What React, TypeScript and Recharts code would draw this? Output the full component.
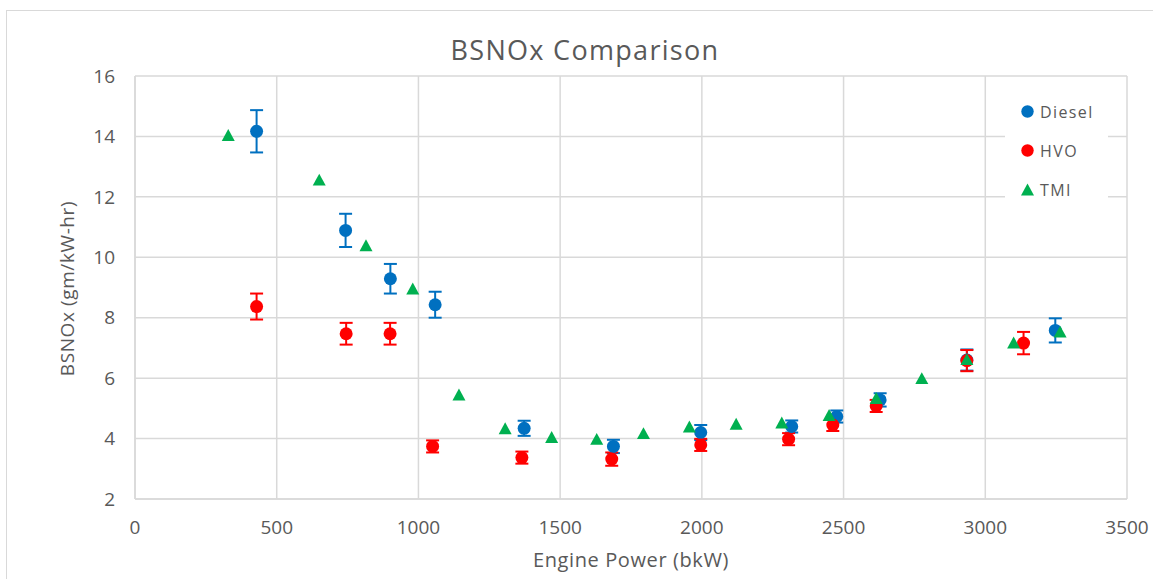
import React from 'react';
import { ScatterChart, Scatter, XAxis, YAxis, CartesianGrid, ErrorBar, Legend, Label } from 'recharts';

// Engine power (bkW), BSNOx (gm/kW-hr) and ± error per fuel
const dieselPower = [429, 743, 901, 1059, 1373, 1688, 1996, 2317, 2476, 2629, 2935, 3247];
const dieselNox = [14.17, 10.89, 9.29, 8.43, 4.34, 3.74, 4.2, 4.4, 4.73, 5.28, 6.6, 7.58];
const dieselErr = [0.7, 0.55, 0.49, 0.43, 0.25, 0.22, 0.25, 0.2, 0.2, 0.22, 0.35, 0.4];

const hvoPower = [429, 745, 900, 1050, 1365, 1682, 1996, 2306, 2462, 2615, 2935, 3135];
const hvoNox = [8.37, 7.47, 7.47, 3.74, 3.37, 3.32, 3.79, 3.98, 4.45, 5.08, 6.58, 7.16];
const hvoErr = [0.43, 0.36, 0.36, 0.2, 0.2, 0.22, 0.2, 0.2, 0.2, 0.2, 0.35, 0.37];

const tmiPower = [329, 650, 815, 980, 1143, 1306, 1470, 1629, 1794, 1956, 2121, 2282, 2449, 2615, 2776, 2935, 3100, 3264];
const tmiNox = [14.05, 12.57, 10.4, 8.97, 5.46, 4.34, 4.05, 3.99, 4.18, 4.4, 4.49, 4.53, 4.78, 5.34, 6.0, 6.63, 7.18, 7.54];

const xTicks = [0, 500, 1000, 1500, 2000, 2500, 3000, 3500];
const yTicks = [2, 4, 6, 8, 10, 12, 14, 16];

const seriesNames = ['Diesel', 'HVO', 'TMI'];
const chartTitle = 'BSNOx Comparison';
const xTitle = 'Engine Power (bkW)';
const yTitle = 'BSNOx (gm/kW-hr)';

const BLUE = '#0070c0';
const RED = '#ff0000';
const GREEN = '#00b050';
const TEXT = '#595959';
const GRID = '#d9d9d9';
const FONT = "'Open Sans', sans-serif";

const dieselData = dieselPower.map((x, i) => ({ x, y: dieselNox[i], err: dieselErr[i] }));
const hvoData = hvoPower.map((x, i) => ({ x, y: hvoNox[i], err: hvoErr[i] }));
const tmiData = tmiPower.map((x, i) => ({ x, y: tmiNox[i] }));

const DOT_R = 6.5;
const TRI = 13;
// ErrorBar's width is measured from the centre to each end of the cap
const CAP_HALF = 6.5;

const dot = (color: string) => (props: any) => (
  <circle cx={props.cx} cy={props.cy} r={DOT_R} fill={color} />
);

const triangle = (color: string) => (props: any) => {
  const { cx, cy } = props;
  const h = TRI * 0.92;
  return (
    <polygon
      points={`${cx},${cy - h / 2} ${cx + TRI / 2},${cy + h / 2} ${cx - TRI / 2},${cy + h / 2}`}
      fill={color}
    />
  );
};

const markerFor = (name: string, color: string) => {
  if (name === 'TMI') {
    return (
      <svg width={13} height={13} style={{ display: 'block' }}>
        <polygon points="6.5,0.5 13,12.5 0,12.5" fill={color} />
      </svg>
    );
  }
  return (
    <svg width={13} height={13} style={{ display: 'block' }}>
      <circle cx={6.5} cy={6.5} r={6.2} fill={color} />
    </svg>
  );
};

const LegendBox = (props: any) => {
  const { payload = [] } = props;
  const ordered = seriesNames
    .map((n) => payload.find((p: any) => p.value === n))
    .filter(Boolean);
  return (
    <div style={{ background: '#fff', width: 103, height: 113 }}>
      {ordered.map((entry: any) => (
        <div
          key={entry.value}
          style={{ height: 39, display: 'flex', alignItems: 'center', paddingLeft: 16 }}
        >
          {markerFor(entry.value, entry.color)}
          <span
            style={{
              marginLeft: 6,
              fontFamily: FONT,
              fontSize: 16,
              letterSpacing: 1.4,
              color: TEXT,
            }}
          >
            {entry.value}
          </span>
        </div>
      ))}
    </div>
  );
};

const XTitle = (props: any) => {
  const vb = props.viewBox || {};
  return (
    <text
      x={vb.x + vb.width / 2}
      y={vb.y + 67.5}
      textAnchor="middle"
      fill={TEXT}
      fontFamily={FONT}
      fontSize={20}
      letterSpacing={0.6}
    >
      {xTitle}
    </text>
  );
};

const YTitle = (props: any) => {
  const vb = props.viewBox || {};
  const cx = vb.x + 67;
  const cy = vb.y + vb.height / 2 + 1;
  return (
    <text
      x={cx}
      y={cy}
      transform={`rotate(-90 ${cx} ${cy})`}
      textAnchor="middle"
      dominantBaseline="central"
      fill={TEXT}
      fontFamily={FONT}
      fontSize={19}
      letterSpacing={0.6}
    >
      {yTitle}
    </text>
  );
};

export default function App() {
  return (
    <div
      style={{
        position: 'absolute',
        left: 0,
        top: 0,
        width: 1153,
        height: 579,
        overflow: 'hidden',
        background: '#fff',
      }}
    >
      <div
        style={{
          position: 'absolute',
          left: 6,
          top: 10,
          width: 1200,
          height: 620,
          border: `1px solid ${GRID}`,
        }}
      />
      <div
        style={{
          position: 'absolute',
          left: 0,
          top: 31,
          width: 1170,
          textAlign: 'center',
          fontFamily: FONT,
          fontSize: 27,
          letterSpacing: 1.3,
          color: TEXT,
          whiteSpace: 'nowrap',
        }}
      >
        {chartTitle}
      </div>
      <div style={{ position: 'absolute', left: 0, top: 0 }}>
        <ScatterChart
          width={1153}
          height={579}
          margin={{ top: 76, right: 26, bottom: 40, left: 0 }}
        >
          <CartesianGrid stroke={GRID} strokeWidth={1.5} />
          <XAxis
            type="number"
            dataKey="x"
            domain={[0, 3500]}
            ticks={xTicks}
            interval={0}
            height={40}
            tickLine={false}
            tickSize={0}
            tickMargin={22}
            axisLine={{ stroke: GRID, strokeWidth: 1.5 }}
            tick={{ fill: TEXT, fontSize: 19, fontFamily: FONT }}
            allowDataOverflow
          >
            <Label content={XTitle} />
          </XAxis>
          <YAxis
            type="number"
            dataKey="y"
            domain={[2, 16]}
            ticks={yTicks}
            interval={0}
            width={135}
            tickLine={false}
            tickSize={0}
            tickMargin={20}
            axisLine={{ stroke: GRID, strokeWidth: 1.5 }}
            tick={{ fill: TEXT, fontSize: 19, fontFamily: FONT }}
            allowDataOverflow
          >
            <Label content={YTitle} />
          </YAxis>
          <Legend
            layout="vertical"
            align="center"
            verticalAlign="middle"
            content={LegendBox}
            wrapperStyle={{ left: 1005, top: 92, width: 103, height: 113 }}
          />
          <Scatter
            name="Diesel"
            data={dieselData}
            fill={BLUE}
            shape={dot(BLUE)}
            isAnimationActive={false}
          >
            <ErrorBar
              dataKey="err"
              direction="y"
              width={CAP_HALF}
              stroke={BLUE}
              strokeWidth={2}
              isAnimationActive={false}
            />
          </Scatter>
          <Scatter
            name="HVO"
            data={hvoData}
            fill={RED}
            shape={dot(RED)}
            isAnimationActive={false}
          >
            <ErrorBar
              dataKey="err"
              direction="y"
              width={CAP_HALF}
              stroke={RED}
              strokeWidth={2}
              isAnimationActive={false}
            />
          </Scatter>
          <Scatter
            name="TMI"
            data={tmiData}
            fill={GREEN}
            shape={triangle(GREEN)}
            isAnimationActive={false}
          />
        </ScatterChart>
      </div>
    </div>
  );
}
